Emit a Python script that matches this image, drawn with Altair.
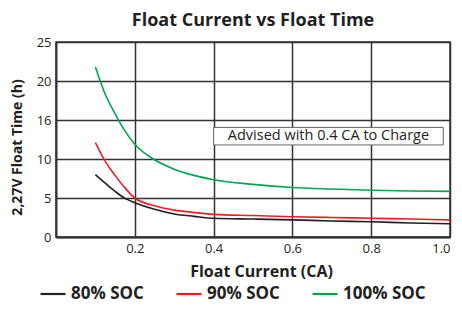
import altair as alt
import pandas as pd

current = [0.1, 0.125, 0.15, 0.175, 0.2, 0.25, 0.3, 0.35, 0.4, 0.5, 0.6, 0.7, 0.8, 0.9, 1.0]
soc80 = [8.0, 6.9, 5.85, 4.95, 4.4, 3.55, 2.95, 2.65, 2.4, 2.3, 2.2, 2.05, 1.95, 1.8, 1.7]
soc90 = [12.1, 9.7, 7.9, 6.3, 5.0, 4.0, 3.45, 3.15, 2.9, 2.75, 2.6, 2.5, 2.4, 2.3, 2.2]
soc100 = [21.8, 18.3, 15.8, 13.6, 11.9, 9.9, 8.7, 7.9, 7.35, 6.75, 6.35, 6.15, 6.0, 5.9, 5.85]

series_names = ["80% SOC", "90% SOC", "100% SOC"]
series_colors = ["#231f20", "#ed1c24", "#00a651"]

x_ticks = [0.2, 0.4, 0.6, 0.8, 1.0]
y_ticks = [0, 5, 10, 15, 20, 25]
y_tick_labels = ["0", "5", "10", "16", "20", "25"]

note_text = "Advised with 0.4 CA to Charge"
note_x = [0.4, 0.983]
note_y = [11.8, 14.05]

FONT = "Open Sans"
INK = "#231f20"

rows = []
for name, vals in zip(series_names, [soc80, soc90, soc100]):
    for c, v in zip(current, vals):
        rows.append({"current": c, "time": v, "series": name})
df = pd.DataFrame(rows)

label_expr = " : ".join(
    f"datum.value == {v} ? '{l}'" for v, l in zip(y_ticks, y_tick_labels)
) + " : datum.label"

x_scale = alt.Scale(domain=[0, 1], nice=False)
y_scale = alt.Scale(domain=[0, 25], nice=False)

x_axis = alt.Axis(values=x_ticks, format=".1f", title="Float Current (CA)",
                  grid=True, gridColor="#333", gridWidth=1.5, gridOpacity=1,
                  domainColor="#333", domainWidth=2, ticks=False, labelOverlap=False,
                  labelFont=FONT, labelFontSize=13, labelColor=INK, labelPadding=5,
                  titleFont=FONT, titleFontSize=16, titleFontWeight="bold",
                  titleColor=INK, titleX=205, titleAlign="center", titlePadding=8)
y_axis = alt.Axis(values=y_ticks, labelExpr=label_expr, title="2,27V Float Time (h)",
                  grid=True, gridColor="#333", gridWidth=1.5, gridOpacity=1,
                  domainColor="#333", domainWidth=2, ticks=False, labelOverlap=False,
                  labelFont=FONT, labelFontSize=13, labelColor=INK, labelPadding=5,
                  titleFont=FONT, titleFontSize=14, titleFontWeight="bold",
                  titleColor=INK, titleX=-39, titleY=105, titleBaseline="middle")

note_df = pd.DataFrame({"x": [note_x[0]], "x2": [note_x[1]], "y": [note_y[0]], "y2": [note_y[1]],
                        "tx": [(note_x[0] + note_x[1]) / 2], "ty": [(note_y[0] + note_y[1]) / 2],
                        "text": [note_text]})

box = alt.Chart(note_df).mark_rect(fill="white", stroke="#666", strokeWidth=1).encode(
    x=alt.X("x:Q", scale=x_scale, axis=x_axis, title="Float Current (CA)"), x2="x2:Q",
    y=alt.Y("y:Q", scale=y_scale, axis=y_axis, title="2,27V Float Time (h)"), y2="y2:Q",
)

lines = alt.Chart(df).mark_line(strokeWidth=1.6, interpolate="monotone").encode(
    x=alt.X("current:Q", scale=x_scale, axis=x_axis, title="Float Current (CA)"),
    y=alt.Y("time:Q", scale=y_scale, axis=y_axis, title="2,27V Float Time (h)"),
    color=alt.Color("series:N", sort=series_names,
                    scale=alt.Scale(domain=series_names, range=series_colors),
                    legend=alt.Legend(title=None, orient="none", direction="horizontal",
                                      legendX=-17, legendY=238,
                                      symbolType="stroke", symbolSize=625,
                                      symbolStrokeWidth=2.2, labelOffset=4,
                                      columnPadding=28,
                                      labelFont=FONT, labelFontSize=17,
                                      labelFontWeight="bold", labelColor=INK)),
)

txt = alt.Chart(note_df).mark_text(font=FONT, fontSize=14.5, color=INK).encode(
    x=alt.X("tx:Q", scale=x_scale, axis=x_axis, title="Float Current (CA)"),
    y=alt.Y("ty:Q", scale=y_scale, axis=y_axis, title="2,27V Float Time (h)"),
    text="text:N"
)

chart = alt.layer(box, lines, txt).properties(
    width=394, height=195,
    title=alt.TitleParams("Float Current vs Float Time", font=FONT, fontSize=18,
                          fontWeight="bold", color=INK, anchor="middle", offset=6),
    autosize=alt.AutoSizeParams(type="none"),
    padding={"left": 48, "top": 34, "right": 2, "bottom": 69},
).configure_view(stroke="#333", strokeWidth=1.5)

chart.save("out.html", embed_options={"renderer": "svg", "actions": False})
